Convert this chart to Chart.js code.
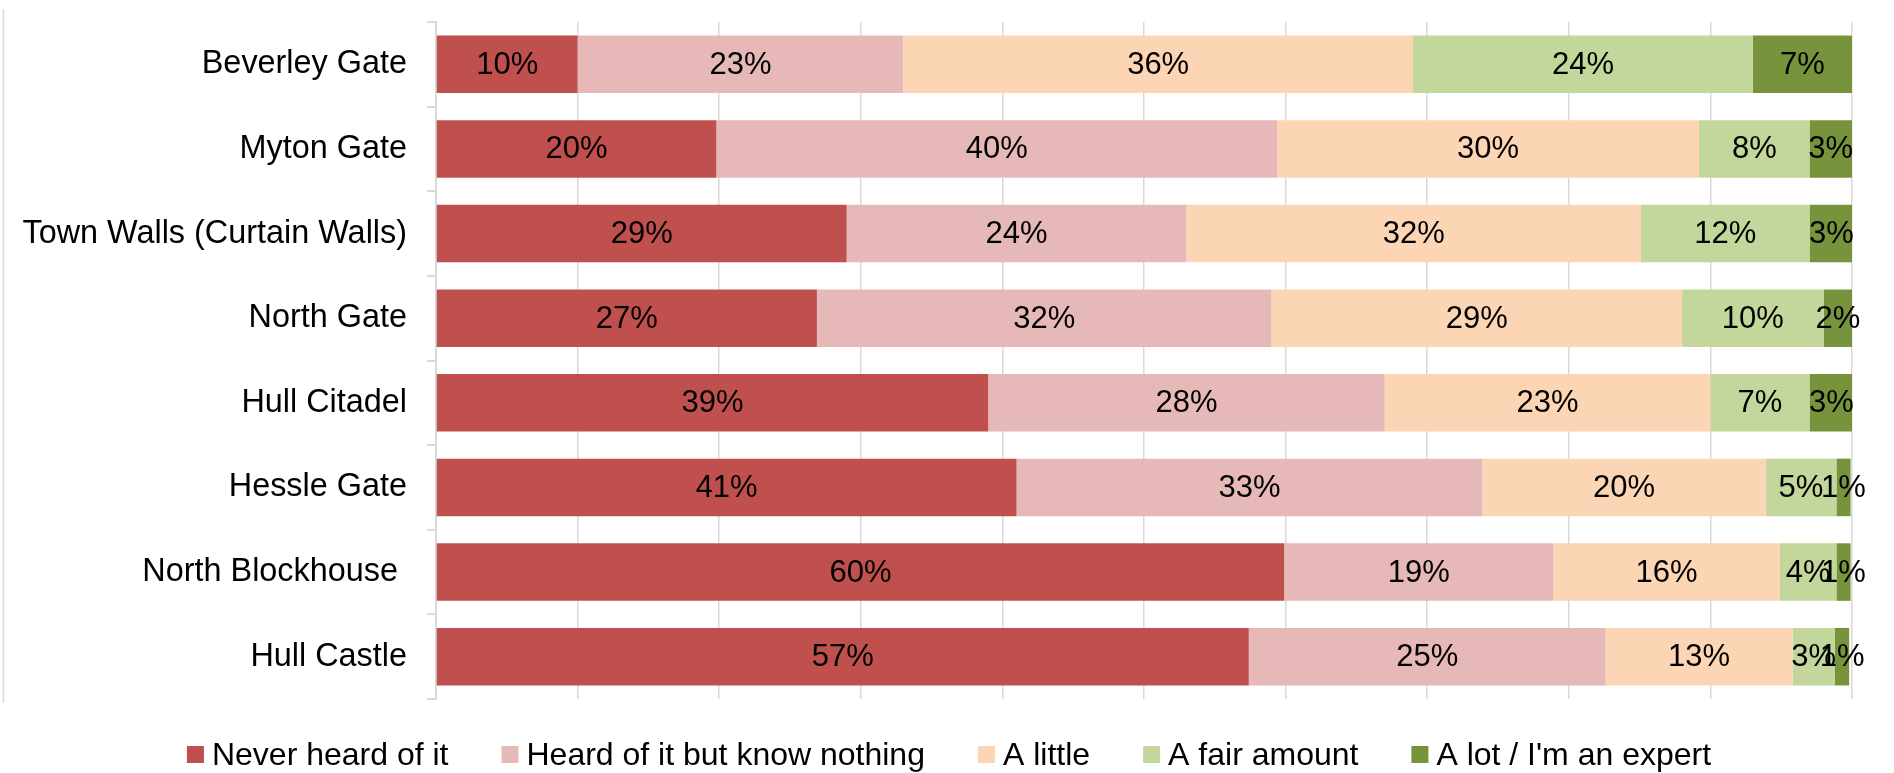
<!DOCTYPE html>
<html>
<head>
<meta charset="utf-8">
<title>Hull heritage sites awareness</title>
<script src="https://cdn.jsdelivr.net/npm/chart.js@4/dist/chart.umd.min.js"></script>
<style>
  body { margin: 0; background: #ffffff; }
  #wrap { width: 1894px; height: 773px; }
</style>
</head>
<body>
<div id="wrap"><canvas id="barChart" width="1894" height="773"></canvas></div>
<script>
// Kategorien von oben nach unten
var sites = ['Beverley Gate', 'Myton Gate', 'Town Walls (Curtain Walls)', 'North Gate',
  'Hull Citadel', 'Hessle Gate', 'North Blockhouse ', 'Hull Castle'];

var seriesNames = ['Never heard of it', 'Heard of it but know nothing', 'A little',
  'A fair amount', "A lot / I'm an expert"];

// Prozentwerte je Serie
var neverHeard = [10.0, 19.8, 29.0, 26.9, 39.0, 41.0, 59.9, 57.4];
var heardNothing = [23.0, 39.6, 24.0, 32.1, 28.0, 32.9, 19.0, 25.2];
var aLittle = [36.0, 29.8, 32.1, 29.0, 23.0, 20.0, 16.0, 13.2];
var fairAmount = [24.0, 7.8, 11.9, 10.0, 7.0, 5.0, 4.0, 3.0];
var aLot = [7.0, 3.0, 3.1, 2.0, 3.1, 1.0, 1.0, 1.0];

var xTicks = [0, 10, 20, 30, 40, 50, 60, 70, 80, 90, 100];

var colors = ['#C0504D', '#E6B9B8', '#FCD5B5', '#C3D69B', '#77933C'];
var fontFamily = '"Liberation Sans", Arial, sans-serif';

// Prozentzahlen mittig in jedem Balkenstueck
var barLabels = {
  id: 'barLabels',
  afterDatasetsDraw: function (chart) {
    var ctx = chart.ctx;
    ctx.save();
    ctx.font = '31px ' + fontFamily;
    ctx.fillStyle = '#000000';
    ctx.textAlign = 'center';
    ctx.textBaseline = 'middle';
    chart.data.datasets.forEach(function (ds, i) {
      var meta = chart.getDatasetMeta(i);
      meta.data.forEach(function (bar, j) {
        var x = (bar.x + bar.base) / 2;
        ctx.fillText(Math.round(ds.data[j]) + '%', x, bar.y + 1);
      });
    });
    ctx.restore();
  }
};

// Legende unten, wie im Original gezeichnet
var bottomLegend = {
  id: 'bottomLegend',
  afterDraw: function (chart) {
    var ctx = chart.ctx;
    var box = 17, gap = 8, spacing = 53, y = 755;
    ctx.save();
    ctx.font = '32px ' + fontFamily;
    var widths = chart.data.datasets.map(function (ds) {
      return ctx.measureText(ds.label).width;
    });
    var total = 0;
    widths.forEach(function (w) { total += box + gap + w; });
    total += spacing * (widths.length - 1);
    var x = chart.width / 2 - total / 2 + 2;
    ctx.textBaseline = 'middle';
    ctx.textAlign = 'left';
    chart.data.datasets.forEach(function (ds, i) {
      ctx.fillStyle = ds.backgroundColor;
      ctx.fillRect(x, y - box / 2 - 0.5, box, box);
      ctx.fillStyle = '#000000';
      ctx.fillText(ds.label, x + box + gap, y + 1);
      x += box + gap + widths[i] + spacing;
    });
    ctx.restore();
  },
  beforeDraw: function (chart) {
    // duenne Rahmenlinie links
    var ctx = chart.ctx;
    ctx.save();
    ctx.strokeStyle = '#D9D9D9';
    ctx.lineWidth = 1.5;
    ctx.beginPath();
    ctx.moveTo(3.5, 9);
    ctx.lineTo(3.5, 703);
    ctx.stroke();
    ctx.restore();
  }
};

function createBarChart() {
  var canvas = document.getElementById('barChart').getContext('2d');
  var series = [neverHeard, heardNothing, aLittle, fairAmount, aLot];

  new Chart(canvas, {
    type: 'bar',
    data: {
      labels: sites,
      datasets: series.map(function (values, i) {
        return {
          label: seriesNames[i],
          data: values,
          backgroundColor: colors[i],
          borderWidth: 0,
          categoryPercentage: 1,
          barPercentage: 0.68
        };
      })
    },
    options: {
      indexAxis: 'y',
      responsive: false,
      devicePixelRatio: 1,
      animation: false,
      layout: { padding: { top: 22, right: 42, bottom: 74, left: 0 } },
      plugins: {
        legend: { display: false },
        tooltip: { enabled: false }
      },
      scales: {
        x: {
          stacked: true,
          min: 0,
          max: 100,
          afterBuildTicks: function (scale) {
            scale.ticks = xTicks.map(function (v) { return { value: v }; });
          },
          ticks: { display: false },
          grid: { color: '#D9D9D9', lineWidth: 1.5, drawTicks: false },
          border: { display: false }
        },
        y: {
          stacked: true,
          afterFit: function (scale) {
            scale.width = 436;
            // kein Extra-Rand oben/unten durch die Beschriftung
            scale.paddingTop = 0;
            scale.paddingBottom = 0;
          },
          ticks: {
            color: '#000000',
            padding: 20,
            font: { family: fontFamily, size: 32.4 }
          },
          grid: {
            offset: true,
            drawOnChartArea: false,
            tickLength: 9,
            color: '#D9D9D9',
            lineWidth: 2
          },
          border: { color: '#D9D9D9', width: 2 }
        }
      }
    },
    plugins: [barLabels, bottomLegend]
  });
}

createBarChart();
</script>
</body>
</html>
